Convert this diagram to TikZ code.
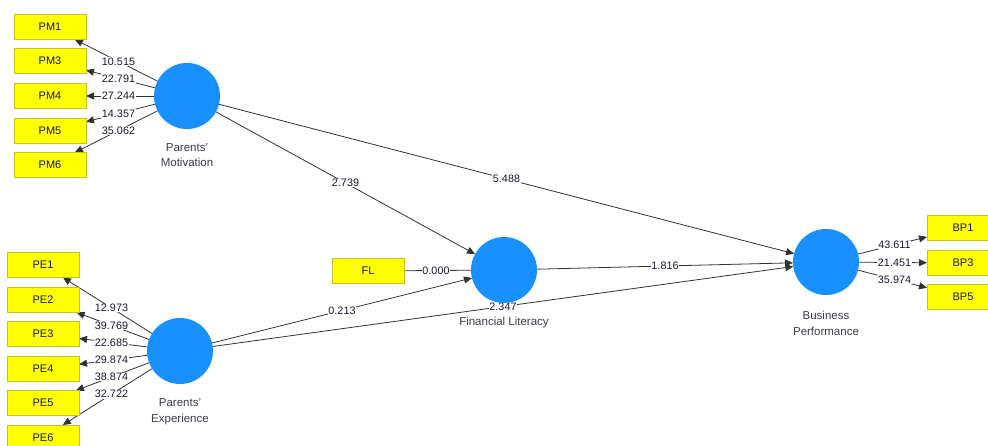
\documentclass[tikz,border=0pt]{standalone}
\usepackage{fontspec}
\setmainfont{Liberation Sans}
\usetikzlibrary{arrows.meta,calc,backgrounds}
\definecolor{lv}{RGB}{24,144,255}
\definecolor{ind}{RGB}{255,255,0}
\definecolor{indb}{RGB}{196,196,30}
\definecolor{ln}{RGB}{50,50,50}
\definecolor{txt}{RGB}{25,25,45}
\definecolor{lvtxt}{RGB}{60,60,70}
\begin{document}
\begin{tikzpicture}[x=1pt,y=-1pt,
  lvnode/.style={circle,fill=lv,minimum size=66pt,inner sep=0pt,outer sep=0pt},
  indbox/.style={rectangle,fill=ind,draw=indb,line width=0.8pt,minimum width=72pt,minimum height=25pt,inner sep=0pt,outer sep=0pt,font=\fontsize{11}{12}\selectfont,text=txt},
  conn/.style={draw=ln,line width=0.8pt,-{Triangle[length=8pt,width=7pt]}},
  plain/.style={draw=ln,line width=0.8pt},
  val/.style={fill=white,inner sep=0.6pt,font=\fontsize{10.8}{12}\selectfont,text=txt},
  lvlab/.style={align=center,font=\fontsize{11.5}{15.5}\selectfont,text=lvtxt}]
\useasboundingbox (0,0) rectangle (988,446);
\clip (0,0) rectangle (988,446);

% latent variables
\node[lvnode] (PM) at (187,96) {};
\node[lvnode] (PE) at (180,351) {};
\node[lvnode] (FLc) at (504,270) {};
\node[lvnode] (BP) at (826,262) {};

% indicators
\node[indbox] (PM1) at (50,27) {PM1};
\node[indbox] (PM3) at (50,61) {PM3};
\node[indbox] (PM4) at (50,96) {PM4};
\node[indbox] (PM5) at (50,131) {PM5};
\node[indbox] (PM6) at (50,165) {PM6};

\node[indbox] (PE1) at (43,265) {PE1};
\node[indbox] (PE2) at (43,300) {PE2};
\node[indbox] (PE3) at (43,334) {PE3};
\node[indbox] (PE4) at (43,369) {PE4};
\node[indbox] (PE5) at (43,403) {PE5};
\node[indbox] (PE6) at (43,437.5) {PE6};

\node[indbox] (FL) at (368,271) {FL};

\node[indbox] (BP1) at (963,228) {BP1};
\node[indbox] (BP3) at (963,263) {BP3};
\node[indbox] (BP5) at (963,297) {BP5};

% labels under latent variables
\node[lvlab] (PMl) at (187,155) {Parents'\\Motivation};
\node[lvlab] (PEl) at (180,411.5) {Parents'\\Experience};
\node[lvlab] (FLl) at (504,323) {Financial Literacy};
\node[lvlab] (BPl) at (826,323.5) {Business\\Performance};

\begin{scope}[on background layer]
\fill[white] (0,0) rectangle (988,446);
% outer loadings
\foreach \t/\v in {PM1/10.515,PM3/22.791,PM4/27.244,PM5/14.357,PM6/35.062}{
  \draw[conn] (PM) -- (\t);
  \node[val] at ($(PM)!0.5!(\t)$) {\v};
}
\foreach \t/\v in {PE1/12.973,PE2/39.769,PE3/22.685,PE4/29.874,PE5/38.874,PE6/32.722}{
  \draw[conn] (PE) -- (\t);
  \node[val] at ($(PE)!0.5!(\t)$) {\v};
}
\foreach \t/\v in {BP1/43.611,BP3/21.451,BP5/35.974}{
  \draw[conn] (BP) -- (\t);
  \node[val] at ($(BP)!0.5!(\t)$) {\v};
}
\draw[plain] (FL) -- (FLc);
\node[val] at ($(FL)!0.5!(FLc)$) {0.000};

% structural paths
\draw[conn] (PM) -- (FLc);
\node[val] at ($(PM)!0.5!(FLc)$) {2.739};
\draw[conn] (PM) -- (BP);
\node[val] at ($(PM)!0.5!(BP)$) {5.488};
\draw[conn] (PE) -- (FLc);
\node[val] at ($(PE)!0.5!(FLc)$) {0.213};
\draw[conn] (PE) -- (BP);
\node[val] at ($(PE)!0.5!(BP)$) {2.347};
\draw[conn] (FLc) -- (BP);
\node[val] at ($(FLc)!0.5!(BP)$) {1.816};
\end{scope}
\end{tikzpicture}
\end{document}
